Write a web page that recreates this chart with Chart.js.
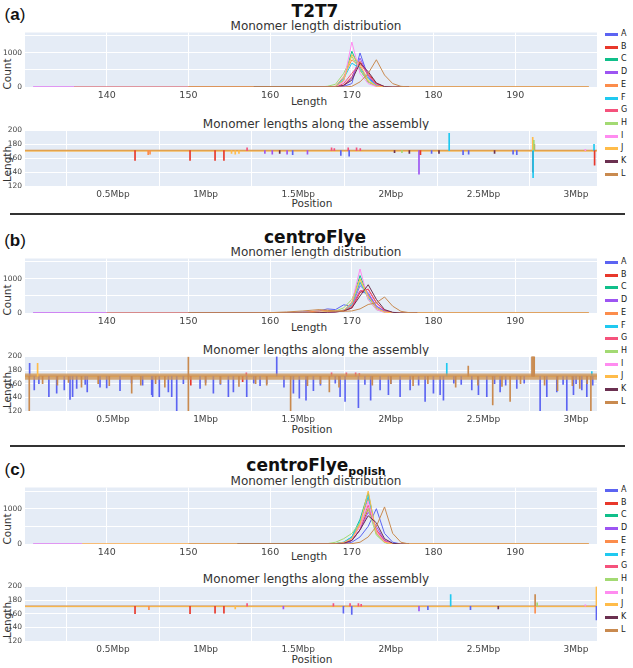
<!DOCTYPE html>
<html>
<head>
<meta charset="utf-8">
<script src="https://cdn.jsdelivr.net/npm/chart.js@4"></script>
<style>
body{margin:0;background:#fff;font-family:"DejaVu Sans",sans-serif;color:#444}
#fig{position:relative;width:633px;height:668px;overflow:hidden}
.t{position:absolute;white-space:nowrap;transform:translate(-50%,-50%);line-height:1}
.rot{transform:translate(-50%,-50%) rotate(-90deg)}
.big{font-weight:bold;font-size:17px;color:#111}
.sub{font-size:12px;color:#333}
.ax{font-size:10.5px;color:#333}
.lab{font-family:"Liberation Sans",sans-serif;font-size:17px;color:#111}
.sep{position:absolute;left:10px;width:615px;height:2px;background:#333}
canvas{position:absolute;left:0}
.lg{position:absolute;font-size:8px;color:#222;line-height:1}
.lg span{position:absolute;left:0;width:13px;height:3px}
</style>
</head>
<body>
<div id="fig">
  <div class="t lab" style="left:15px;top:14px">(<b>a</b>)</div>
  <div class="t big" style="left:315px;top:11px">T2T7</div>
  <div class="t sub" style="left:316px;top:26px">Monomer length distribution</div>
  <div class="t ax" style="left:309px;top:101px">Length</div>
  <div class="t ax rot" style="left:7px;top:74px">Count</div>
  <div class="t sub" style="left:316px;top:124px">Monomer lengths along the assembly</div>
  <div class="t ax rot" style="left:7px;top:164px">Length</div>
  <div class="t ax" style="left:312px;top:203px">Position</div>
  <div class="sep" style="top:213px"></div>

  <div class="t lab" style="left:15px;top:240px">(<b>b</b>)</div>
  <div class="t big" style="left:315px;top:237px">centroFlye</div>
  <div class="t sub" style="left:316px;top:252px">Monomer length distribution</div>
  <div class="t ax" style="left:309px;top:327px">Length</div>
  <div class="t ax rot" style="left:7px;top:300px">Count</div>
  <div class="t sub" style="left:316px;top:350px">Monomer lengths along the assembly</div>
  <div class="t ax rot" style="left:7px;top:390px">Length</div>
  <div class="t ax" style="left:312px;top:429px">Position</div>
  <div class="sep" style="top:445px"></div>

  <div class="t lab" style="left:15px;top:469px">(<b>c</b>)</div>
  <div class="t big" style="left:316px;top:467px">centroFlye<sub style="font-size:11px">polish</sub></div>
  <div class="t sub" style="left:316px;top:481px">Monomer length distribution</div>
  <div class="t ax" style="left:309px;top:556px">Length</div>
  <div class="t ax rot" style="left:7px;top:529px">Count</div>
  <div class="t sub" style="left:316px;top:579px">Monomer lengths along the assembly</div>
  <div class="t ax rot" style="left:7px;top:620px">Length</div>
  <div class="t ax" style="left:312px;top:659px">Position</div>
</div>
<script>
// series names and colours
var series = ['A','B','C','D','E','F','G','H','I','J','K','L'];
var colors = ['#5c64f2','#e8382b','#10bf8a','#9d55f2','#fc8d4c','#20c9f0','#f5527c','#a3da73','#ff8cf0','#ffbc4a','#6b3050','#c98a4f'];

// axis ticks
var lengthTicks = [140,150,160,170,180,190];
var countTicks = [0,500,1000,1500];
var posTicks = [0.5,1,1.5,2,2.5,3];
var posLabels = ['0.5Mbp','1Mbp','1.5Mbp','2Mbp','2.5Mbp','3Mbp'];
var lenTicks = [120,140,160,180,200];
var baseLength = 171;

// --- (a) T2T7: monomer length distribution ---
var lengthsT2T7 = [131,136,150,158,165,166,167,168,169,170,171,172,173,174,175,176,177,199];
var countsT2T7 = [
  [null,null,null,0,0,0,0,0,20,100,1000,300,30,5,0,0,0,null],   // A
  [null,null,0,0,0,0,0,0,50,300,750,400,100,10,0,0,0,null],      // B
  [null,null,null,0,0,0,0,10,200,1050,500,150,20,0,0,0,0,null],  // C
  [0,0,0,0,0,0,0,0,30,250,850,350,50,0,0,0,0,null],              // D
  [null,0,0,0,0,0,0,20,300,800,600,150,20,0,0,0,0,0],            // E
  [null,null,null,0,0,0,0,10,250,700,550,250,40,0,0,0,0,null],   // F
  [null,null,null,0,0,0,0,0,100,400,700,350,80,10,0,0,0,null],   // G
  [null,null,null,0,0,0,20,80,400,900,500,150,20,0,0,0,0,null],  // H
  [0,0,null,null,0,0,0,0,150,1320,400,100,10,0,0,0,0,null],      // I
  [null,null,0,0,0,0,0,10,200,950,650,200,30,0,0,0,0,0],         // J
  [null,null,null,0,0,0,0,0,50,200,700,450,120,10,0,0,0,null],   // K
  [null,null,0,0,0,0,0,0,0,20,150,400,800,350,100,20,0,0]        // L
];
// (a) spikes along the assembly: [series, position Mbp, length]
var spikesT2T7 = [
  ['B',0.619,157],['E',0.69,165],['E',0.70,166],['B',0.916,157],['B',1.051,157],['B',1.099,157],
  ['J',1.14,167],['J',1.16,166],['J',1.18,167],['G',1.224,175],
  ['D',1.32,167],['D',1.36,166],['K',1.40,167],['D',1.44,166],['A',1.47,165],['D',1.55,166],
  ['G',1.68,175],['G',1.695,174],['A',1.73,164],['G',1.77,175],['A',1.775,163],['G',1.815,175],['G',1.835,174],
  ['K',2.02,168],['H',2.06,168],['K',2.10,167],['D',2.152,137],['B',2.16,165],['A',2.22,167],['K',2.26,167],
  ['F',2.315,196],['A',2.39,165],['A',2.42,166],['K',2.56,167],['A',2.66,166],['A',2.68,165],
  ['F',2.768,132],['K',2.768,140],['J',2.766,190],['H',2.772,186],['L',2.775,180],
  ['I',3.05,173],['F',3.097,180],['B',3.1,150]
];

// --- (b) centroFlye ---
var lengthsFlye = [131,140,150,158,160,162,164,165,166,167,168,169,170,171,172,173,174,175,176,177,178,199];
var countsFlye = [
  [0,0,0,0,0,10,30,40,60,120,100,240,200,650,550,200,60,10,0,0,0,null],        // A
  [null,null,0,0,0,0,0,0,10,20,40,60,150,600,700,300,80,10,0,0,0,null],        // B
  [null,null,0,0,0,0,0,0,10,20,40,80,300,1100,500,150,30,0,0,0,0,null],        // C
  [0,0,0,0,0,0,0,10,20,30,50,80,200,800,600,200,50,10,0,0,0,null],             // D
  [null,0,0,0,0,0,20,40,60,80,60,60,200,900,500,150,30,0,0,0,0,0],             // E
  [null,null,0,0,0,0,0,0,10,20,40,80,250,900,450,150,30,0,0,0,0,null],         // F
  [null,null,0,0,0,0,0,0,10,20,30,60,150,650,700,300,80,10,0,0,0,null],        // G
  [null,null,0,0,0,0,0,0,10,30,60,150,400,1000,400,100,20,0,0,0,0,null],       // H
  [0,0,0,0,0,0,0,0,10,20,40,80,300,1290,400,100,20,0,0,0,0,null],              // I
  [null,null,0,0,0,0,0,10,20,40,50,80,300,1000,500,150,30,0,0,0,0,0],          // J
  [null,null,0,0,0,0,0,0,10,20,30,60,150,500,830,400,100,20,0,0,0,null],       // K
  [null,0,0,0,10,30,60,80,100,80,60,50,60,120,250,300,470,200,50,10,0,0]       // L
];
var spikesFlye = [
  ['A',0.05,190],['A',0.075,151],['A',0.154,141],['A',0.196,146],['A',0.237,151],['A',0.268,137],['A',0.282,141],
  ['A',0.304,153],['A',0.361,148],['A',0.43,155],['A',0.466,154],['A',0.538,150],['A',0.709,144],['A',0.714,141],
  ['A',0.75,141],['A',0.799,148],['A',0.817,141],['A',0.844,120],['A',0.97,153],['A',1.042,146],['A',1.123,141],
  ['A',1.15,148],['A',1.222,141],['A',1.294,157],['A',1.384,200],['A',1.423,155],['A',1.474,146],['A',1.506,139],
  ['A',1.542,136],['A',1.582,150],['A',1.726,141],['A',1.753,134],['A',1.825,125],['A',1.891,136],['A',1.942,151],
  ['A',1.987,144],['A',2.05,141],['A',2.104,151],['A',2.185,134],['A',2.23,146],['A',2.266,144],['A',2.284,136],
  ['A',2.437,151],['A',2.473,144],['A',2.518,141],['A',2.59,148],['A',2.68,153],['A',2.806,120],['A',2.842,141],
  ['A',2.896,148],['A',2.95,121],['A',2.986,144],['A',3.031,151],['A',3.058,141],
  ['A',0.10,160],['A',0.35,159],['A',0.60,161],['A',0.66,158],['A',0.88,160],['A',1.00,162],['A',1.08,159],
  ['A',1.26,161],['A',1.33,160],['A',1.62,158],['A',1.70,161],['A',1.86,159],['A',2.00,160],['A',2.15,158],
  ['A',2.34,161],['A',2.38,159],['A',2.56,160],['A',2.62,158],['A',2.72,161],['A',2.93,159],['A',3.00,160],['A',3.09,158],
  ['L',0.048,120],['J',0.093,190],['L',0.601,146],['L',0.907,199],['L',0.907,120],['L',1.459,120],['L',1.668,148],
  ['L',2.418,186],['L',2.55,129],['L',2.644,134],['L',2.762,203],['L',2.768,203],['L',2.774,203],['L',3.08,120],
  ['L',0.12,160],['L',0.20,158],['L',0.26,162],['L',0.33,155],['L',0.42,160],['L',0.48,157],['L',0.65,158],
  ['L',0.73,160],['L',0.78,155],['L',1.00,158],['L',1.08,160],['L',1.18,156],['L',1.27,160],['L',1.33,158],
  ['L',1.55,157],['L',1.62,160],['L',1.72,155],['L',1.90,158],['L',2.00,160],['L',2.12,157],['L',2.20,160],
  ['L',2.35,155],['L',2.47,158],['L',2.60,156],['L',2.70,160],['L',2.83,158],['L',2.90,150],['L',2.98,157],
  ['L',3.02,153],['L',3.06,160],
  ['F',2.302,190],['F',3.085,178],['G',1.22,176],['G',1.68,176],['G',1.76,176],['G',1.81,176],['G',1.83,175],
  ['B',0.92,158],['B',1.20,163]
];
var bandLowFlye = 166;
var bandHighFlye = 175;

// --- (c) centroFlye polish ---
var lengthsPolish = [131,137,150,156,165,166,167,168,169,170,171,172,173,174,175,176,177,199];
var countsPolish = [
  [null,null,null,0,0,0,0,0,10,50,200,500,1000,300,50,0,0,null],     // A
  [null,null,null,0,0,0,0,0,20,100,400,1000,400,100,10,0,0,null],    // B
  [null,null,null,0,0,0,0,10,50,200,700,1450,300,50,0,0,0,null],     // C
  [0,0,null,null,0,0,0,0,20,100,400,900,500,100,10,0,0,null],        // D
  [null,0,0,0,0,0,0,10,40,150,600,1300,350,60,0,0,0,0],              // E
  [null,null,null,0,0,0,0,10,50,200,650,1350,300,50,0,0,0,null],     // F
  [null,null,null,0,0,0,0,0,30,150,500,1100,400,80,0,0,0,null],      // G
  [null,null,null,0,0,0,10,50,150,300,600,1000,250,40,0,0,0,null],   // H
  [0,0,null,null,0,0,0,0,30,150,500,1200,350,60,0,0,0,null],         // I
  [null,0,0,0,0,0,0,10,40,150,550,1500,300,50,0,0,0,0],              // J
  [null,null,null,0,0,0,0,0,20,100,400,800,600,150,20,0,0,null],     // K
  [null,null,0,0,0,0,0,0,0,10,50,200,500,1050,300,50,0,0]            // L
];
var spikesPolish = [
  ['B',0.619,160],['E',0.694,166],['B',0.916,160],['B',1.051,161],['B',1.099,161],['J',1.16,167],['G',1.224,175],
  ['D',1.42,167],['G',1.69,175],['A',1.744,161],['G',1.78,175],['A',1.789,159],['G',1.825,175],['G',1.84,174],
  ['D',2.152,164],['A',2.2,166],['F',2.323,188],['A',2.43,166],['K',2.58,167],['L',2.779,188],['E',2.779,161],
  ['H',2.79,176],['I',3.05,173],['J',3.11,200],['A',3.11,151]
];

var posMin = 0.025, posMax = 3.113;

var bgPlugin = {
  id: 'bg',
  beforeDraw: function(chart) {
    var a = chart.chartArea, c = chart.ctx;
    c.save();
    c.fillStyle = '#e5ecf6';
    c.fillRect(a.left, a.top, a.right - a.left, a.bottom - a.top);
    c.restore();
  }
};

function addCanvas(top, bottom) {
  var cv = document.createElement('canvas');
  cv.width = 600;
  cv.height = bottom - top + 6 + 16;
  cv.style.top = (top - 6) + 'px';
  document.getElementById('fig').appendChild(cv);
  return cv;
}

function makeOptions(xmin, xmax, xticks, xlab, xfont, ymin, ymax, yticks, ylab) {
  return {
    responsive: false, animation: false, events: [],
    layout: {padding: {top: 6, right: 3, left: 0, bottom: 0}},
    plugins: {legend: {display: false}, tooltip: {enabled: false}},
    scales: {
      x: {
        type: 'linear', min: xmin, max: xmax, offset: false,
        afterBuildTicks: function(s) { s.ticks = xticks.map(function(v) { return {value: v}; }); },
        afterFit: function(s) { s.height = 16; },
        grid: {color: '#ffffff', lineWidth: 1, drawTicks: false},
        border: {display: false},
        ticks: {color: '#444', font: {family: 'DejaVu Sans', size: xfont}, padding: 3, maxRotation: 0, autoSkip: false,
          callback: function(v, i) { return xlab(v, i); }}
      },
      y: {
        min: ymin, max: ymax,
        afterBuildTicks: function(s) { s.ticks = yticks.map(function(v) { return {value: v}; }); },
        afterFit: function(s) { s.width = 25; },
        grid: {color: '#ffffff', lineWidth: 1, drawTicks: false},
        border: {display: false},
        ticks: {color: '#444', font: {family: 'DejaVu Sans', size: 7.5}, padding: 3, autoSkip: false,
          callback: function(v) { return ylab(v); }}
      }
    }
  };
}

function distChart(top, bottom, lengths, counts) {
  var datasets = series.map(function(s, i) {
    return {
      label: s,
      data: lengths.map(function(x, j) { return {x: x, y: counts[i][j]}; }),
      borderColor: colors[i], borderWidth: 1, pointRadius: 0, tension: 0, fill: false
    };
  }).reverse();
  new Chart(addCanvas(top, bottom), {
    type: 'line',
    data: {datasets: datasets},
    options: makeOptions(130, 200, lengthTicks, function(v) { return String(v); }, 9.5,
      0, 1600, countTicks, function(v) { return (v === 0 || v === 1000) ? String(v) : ''; }),
    plugins: [bgPlugin]
  });
}

function spikeSet(spikes, s, i) {
  var pts = spikes.filter(function(p) { return p[0] === s; }).map(function(p) {
    return {x: p[1], y: [baseLength, p[2]]};
  });
  return {type: 'bar', label: s, data: pts, backgroundColor: colors[i], barThickness: 1, grouped: false, borderWidth: 0};
}

function flat(y, color, w) {
  return {type: 'line', data: [{x: posMin, y: y}, {x: posMax, y: y}], borderColor: color, borderWidth: w, pointRadius: 0, fill: false};
}

function alongChart(top, bottom, spikes, band) {
  var datasets = [];
  var order = band ? ['L','J'] : [];
  order.forEach(function(s) { datasets.push(spikeSet(spikes, s, series.indexOf(s))); });
  if (band) {
    var hi = flat(band[1], 'rgba(0,0,0,0)', 0);
    hi.backgroundColor = 'rgba(206,150,88,0.8)';
    hi.fill = '+1';
    datasets.push(hi);
    datasets.push(flat(band[0], 'rgba(0,0,0,0)', 0));
  }
  series.forEach(function(s, i) {
    if (order.indexOf(s) < 0) datasets.push(spikeSet(spikes, s, i));
  });
  datasets.push(flat(baseLength - 0.6, colors[9], 1));
  datasets.push(flat(baseLength, colors[11], 1.5));
  new Chart(addCanvas(top, bottom), {
    type: 'bar',
    data: {datasets: datasets},
    options: makeOptions(posMin, posMax, posTicks, function(v) { return posLabels[posTicks.indexOf(v)]; }, 9,
      120, 200, lenTicks, function(v) { return String(v); }),
    plugins: [bgPlugin]
  });
}

function legend(top) {
  var fig = document.getElementById('fig');
  series.forEach(function(s, i) {
    var d = document.createElement('div');
    d.className = 'lg';
    d.style.left = '605px';
    d.style.top = (top + i * 12.7 - 4) + 'px';
    d.innerHTML = '<span style="top:3px;background:' + colors[i] + '"></span><b style="position:absolute;left:16px;font-weight:normal">' + s + '</b>';
    fig.appendChild(d);
  });
}

distChart(31, 87, lengthsT2T7, countsT2T7);
alongChart(129, 186, spikesT2T7, null);
distChart(257, 313, lengthsFlye, countsFlye);
alongChart(355, 411, spikesFlye, [bandLowFlye, bandHighFlye]);
distChart(486, 544, lengthsPolish, countsPolish);
alongChart(585, 641, spikesPolish, null);
legend(34);
legend(262);
legend(490);
</script>
</body>
</html>
